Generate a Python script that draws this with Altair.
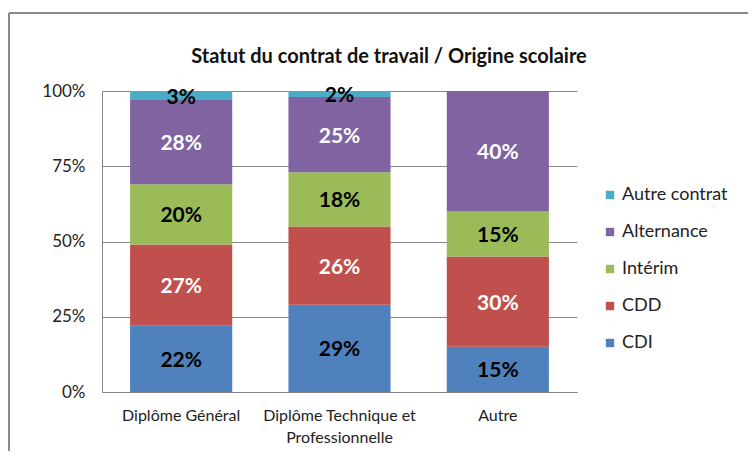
import altair as alt
import pandas as pd

categories = ["Diplôme Général", "Diplôme Technique et Professionnelle", "Autre"]
series = ["CDI", "CDD", "Intérim", "Alternance", "Autre contrat"]
colors = ["#4F81BD", "#C0504D", "#9BBB59", "#8064A2", "#4BACC6"]
values = {
    "CDI": [22, 29, 15],
    "CDD": [27, 26, 30],
    "Intérim": [20, 18, 15],
    "Alternance": [28, 25, 40],
    "Autre contrat": [3, 2, 0],
}
title_text = "Statut du contrat de travail / Origine scolaire"

rows = []
for si, s in enumerate(series):
    for ci, c in enumerate(categories):
        rows.append({"cat": c, "serie": s, "order": si, "value": values[s][ci]})
df = pd.DataFrame(rows)

FONT = "Lato"

x_enc = alt.X(
    "cat:N",
    sort=categories,
    title=None,
    scale=alt.Scale(paddingInner=0.355, paddingOuter=0.1775),
    axis=alt.Axis(
        labelAngle=0,
        labelExpr="datum.value == 'Diplôme Technique et Professionnelle' ? ['Diplôme Technique et', 'Professionnelle'] : datum.value",
        labelFont=FONT,
        labelFontSize=16,
        labelColor="#222222",
        labelPadding=15,
        labelLineHeight=22,
        ticks=False,
        domainColor="#868686",
        grid=False,
    ),
)

base = alt.Chart(df).transform_stack(
    stack="value", groupby=["cat"], as_=["y0", "y1"], sort=[alt.SortField("order", order="ascending")]
).transform_calculate(mid="(datum.y0 + datum.y1) / 2")

bars = base.mark_bar().encode(
    x=x_enc,
    y=alt.Y(
        "y0:Q",
        title=None,
        scale=alt.Scale(domain=[0, 100], nice=False),
        axis=alt.Axis(
            values=[0, 25, 50, 75, 100],
            labelExpr="datum.value + '%'",
            labelFont=FONT,
            labelFontSize=17,
            labelColor="#222222",
            labelPadding=17,
            ticks=False,
            domainColor="#868686",
            gridColor="#868686",
            gridWidth=1,
        ),
    ),
    y2="y1:Q",
    color=alt.Color(
        "serie:N",
        scale=alt.Scale(domain=series, range=colors),
        sort=series[::-1],
        title=None,
        legend=alt.Legend(
            orient="none",
            legendX=499,
            legendY=95,
            symbolType="square",
            symbolSize=70,
            symbolStrokeWidth=0,
            labelFont=FONT,
            labelFontSize=18,
            labelColor="#222222",
            rowPadding=19,
            labelOffset=3,
            values=series[::-1],
        ),
    ),
)

labels = base.transform_filter("datum.value > 0").transform_calculate(
    label="datum.value + '%'"
).mark_text(font=FONT, fontSize=21, fontWeight="bold", dy=2).encode(
    x=alt.X("cat:N", sort=categories),
    y=alt.Y("mid:Q"),
    text=alt.Text("label:N"),
    color=alt.condition(
        "indexof(['CDD','Alternance'], datum.serie) >= 0",
        alt.value("white"),
        alt.value("black"),
    ),
)

one_row = alt.Data(values=[{"t": title_text}])
title_mark = alt.Chart(one_row).mark_text(
    font=FONT, fontSize=20, fontWeight="bold", color="#111111", align="center", baseline="middle"
).encode(text="t:N", x=alt.value(287), y=alt.value(-34))

frame_top = alt.Chart(one_row).mark_rule(color="#8a8a8a", strokeWidth=2).encode(
    x=alt.value(-93), x2=alt.value(700), y=alt.value(-78)
)
frame_left = alt.Chart(one_row).mark_rule(color="#8a8a8a", strokeWidth=2).encode(
    x=alt.value(-93), y=alt.value(-78), y2=alt.value(400)
)

chart = alt.layer(bars, labels, title_mark, frame_top, frame_left).properties(
    width=475,
    height=301,
    padding={"left": 94, "top": 83, "right": 171, "bottom": 59},
    autosize=alt.AutoSizeParams(type="none"),
).configure_view(stroke=None)

chart.save("out.html", embed_options={"renderer": "svg", "actions": False})
